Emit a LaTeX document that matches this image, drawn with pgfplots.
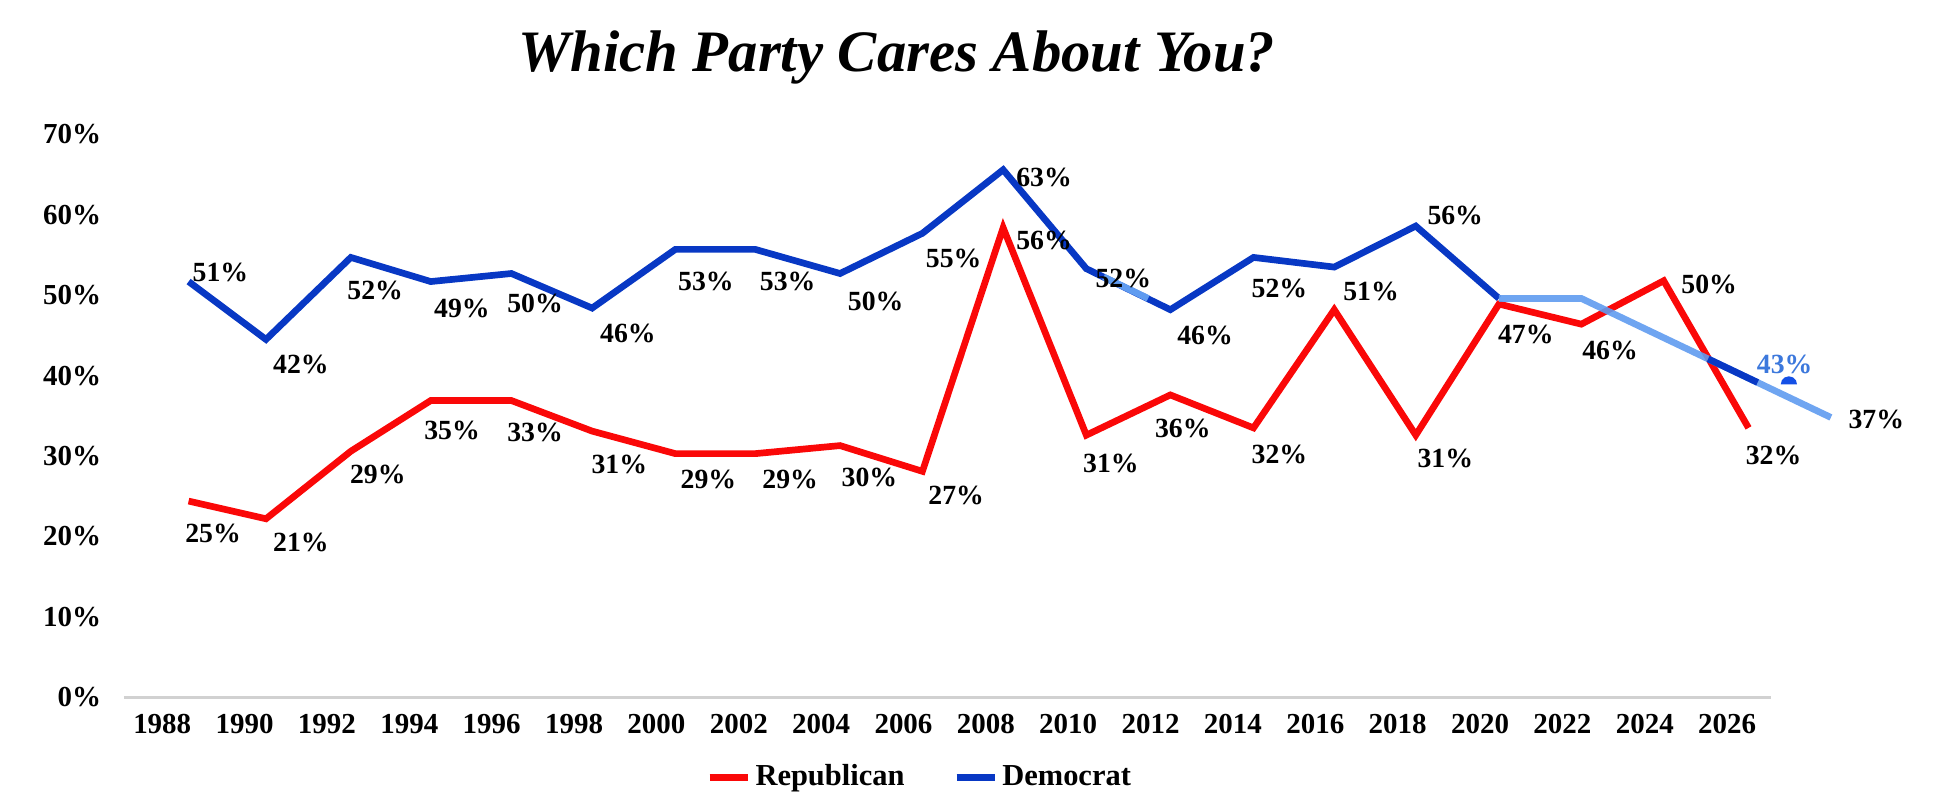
\documentclass[border=0pt]{standalone}
\usepackage{fontspec}
\setmainfont{Liberation Serif}
\usepackage{pgfplots}
\pgfplotsset{compat=1.18}
\definecolor{rep}{RGB}{250,8,8}
\definecolor{dem}{RGB}{8,56,196}
\definecolor{demlight}{RGB}{95,155,240}
\definecolor{demlabel}{RGB}{60,120,220}
\definecolor{demblob}{RGB}{20,80,230}
\begin{document}
\begin{tikzpicture}
\path[use as bounding box] (0,0) rectangle (784pt,327pt);
\node[font=\fontsize{23.7}{28}\selectfont\bfseries\itshape, anchor=base] at (362pt,298pt) {Which Party Cares About You?};
\begin{axis}[
  at={(50pt,45.5pt)}, anchor=south west,
  scale only axis, width=665pt, height=227.25pt,
  xmin=-0.466, xmax=19.534, ymin=0, ymax=70,
  clip=false,
  axis x line*=bottom, axis y line*=left,
  y axis line style={draw=none},
  x axis line style={draw=black!18, line width=1.3pt},
  ytick={0,10,...,70},
  yticklabels={0\%,10\%,20\%,30\%,40\%,50\%,60\%,70\%},
  xtick={0,...,19},
  xticklabels={1988,1990,1992,1994,1996,1998,2000,2002,2004,2006,2008,2010,2012,2014,2016,2018,2020,2022,2024,2026},
  major tick length=0pt,
  tick style={draw=none},
  tick label style={font=\fontsize{11.7}{12}\selectfont\bfseries, inner sep=0pt},
  yticklabel style={anchor=east, xshift=-9pt},
  xticklabel style={anchor=north, yshift=-6.5pt},
  legend columns=2,
  legend style={at={(0.4835,-0.142)}, anchor=center, draw=none, fill=none,
    font=\fontsize{12.3}{13}\selectfont\bfseries, inner sep=0pt,
    /tikz/every even column/.append style={column sep=18pt},
    nodes={inner sep=1.5pt}},
  legend image code/.code={\draw[#1, line width=3pt] (0pt,0pt) -- (15.5pt,0pt);},
  every axis plot/.append style={line width=2.7pt},
]
% Republican
\addplot[rep, mark=none] table {
x y
0.32 24.4
1.26 22.2
2.29 30.6
3.26 36.9
4.24 36.9
5.22 33.1
6.23 30.3
7.20 30.3
8.23 31.3
9.23 28.1
10.21 58.4
11.22 32.6
12.24 37.6
13.25 33.5
14.23 48.2
15.22 32.6
16.23 48.9
17.23 46.4
18.23 51.8
19.26 33.5
};
\addlegendentry{Republican}
% Democrat
\addplot[dem, mark=none] table {
x y
0.32 51.7
1.26 44.5
2.29 54.7
3.26 51.7
4.24 52.7
5.22 48.4
6.23 55.7
7.20 55.7
8.23 52.7
9.23 57.7
10.21 65.6
11.22 53.3
12.24 48.2
13.25 54.7
14.23 53.5
15.22 58.6
16.23 49.6
};
\addlegendentry{Democrat}
% light blue projection
\addplot[demlight, opacity=0.9, mark=none, forget plot] table {
x y
16.23 49.6
17.23 49.6
20.26 34.8
};
\addplot[demlight, mark=none, forget plot] table {
x y
11.43 52.27
11.97 49.6
};
\addplot[dem, mark=none, forget plot] table {
x y
18.77 42.08
19.37 39.15
};
% small blue dome beside the 43% label
\addplot[fill=demblob, draw=none, line width=0pt, mark=none, forget plot] coordinates {
(19.849,38.90) (19.836,39.41) (19.800,39.78) (19.750,39.92) (19.700,39.78) (19.664,39.41) (19.651,38.90)
};
% data labels (black)
\addplot[draw=none, mark=none, forget plot,
  point meta=explicit symbolic,
  nodes near coords={\pgfplotspointmeta\%},
  nodes near coords style={anchor=center, inner sep=0pt, black, font=\fontsize{11.2}{12}\selectfont\bfseries}]
  table[meta=l] {
x y l
0.707 52.86 51
1.684 41.43 42
2.586 50.55 52
3.639 48.30 49
4.526 48.94 50
5.654 45.28 46
6.602 51.70 53
7.594 51.70 53
8.662 49.27 50
9.609 54.60 55
10.707 64.69 63
11.669 52.03 52
12.662 44.96 46
13.564 50.87 52
14.677 50.42 51
15.699 59.86 56
16.556 45.09 47
17.579 43.17 46
20.812 34.50 37
0.617 20.36 25
1.684 19.27 21
2.617 27.75 29
3.519 33.20 35
4.526 32.90 33
5.549 28.91 31
6.632 27.11 29
7.624 27.11 29
8.586 27.31 30
9.639 25.06 27
10.707 56.85 56
11.519 29.03 31
12.391 33.41 36
13.564 30.19 32
15.579 29.68 31
18.782 51.38 50
19.564 30.06 32
};
% light blue label
\addplot[draw=none, mark=none, forget plot,
  point meta=explicit symbolic,
  nodes near coords={\pgfplotspointmeta\%},
  nodes near coords style={anchor=center, inner sep=0pt, text=demlabel, font=\fontsize{11.2}{12}\selectfont\bfseries}]
  table[meta=l] {
x y l
19.699 41.43 43
};
\end{axis}
\end{tikzpicture}
\end{document}
